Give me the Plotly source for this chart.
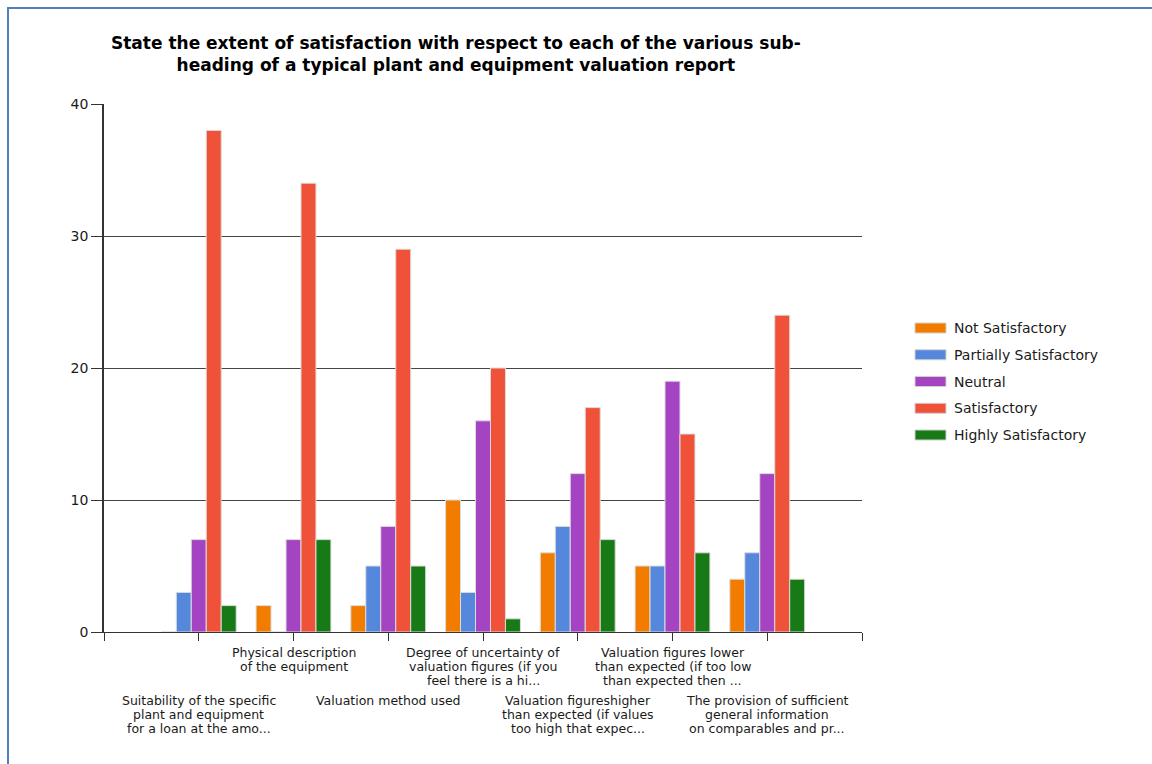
import plotly.graph_objects as go

# Sub-headings of the valuation report (category axis)
categories = [
    "Suitability of the specific<br>plant and equipment<br>for a loan at the amo...",
    "Physical description<br>of the equipment",
    "Valuation method used",
    "Degree of uncertainty of<br>valuation figures (if you<br>feel there is a hi...",
    "Valuation figureshigher<br>than expected (if values<br>too high that expec...",
    "Valuation figures lower<br>than expected (if too low<br>than expected then ...",
    "The provision of sufficient<br>general information<br>on comparables and pr...",
]

series_names = [
    "Not Satisfactory",
    "Partially Satisfactory",
    "Neutral",
    "Satisfactory",
    "Highly Satisfactory",
]

not_satisfactory = [0, 2, 2, 10, 6, 5, 4]
partially_satisfactory = [3, 0, 5, 3, 8, 5, 6]
neutral = [7, 7, 8, 16, 12, 19, 12]
satisfactory = [38, 34, 29, 20, 17, 15, 24]
highly_satisfactory = [2, 7, 5, 1, 7, 6, 4]

series_values = [
    not_satisfactory,
    partially_satisfactory,
    neutral,
    satisfactory,
    highly_satisfactory,
]

y_ticks = [0, 10, 20, 30, 40]

colors = ["#F27C00", "#5587DD", "#A544C2", "#EF5238", "#177A17"]

W, H = 1152, 764
L, R, T, B = 104, 290, 104, 132
PW, PH = W - L - R, H - T - B


def px_x(px):
    return (px - L) / PW


def px_y(py):
    return (H - B - py) / PH


positions = list(range(len(categories)))

fig = go.Figure()
for name, vals, col in zip(series_names, series_values, colors):
    fig.add_trace(
        go.Bar(
            name=name,
            x=positions,
            y=vals,
            marker=dict(color=col, line=dict(color="#dcdcdc", width=1)),
            showlegend=False,
        )
    )

# Staggered category labels under the axis, one line at a time for tight leading
annotations = []
line_step = 14
for i, label in enumerate(categories):
    first_line_y = 700 if i % 2 == 0 else 652
    for j, line in enumerate(label.split("<br>")):
        annotations.append(
            dict(
                x=i,
                xref="x",
                y=px_y(first_line_y + j * line_step),
                yref="paper",
                text=line,
                showarrow=False,
                xanchor="center",
                yanchor="middle",
                align="center",
                font=dict(family="DejaVu Sans", size=12.5, color="#1a1a1a"),
            )
        )

# Title
annotations.append(
    dict(
        x=px_x(456),
        xref="paper",
        y=px_y(54),
        yref="paper",
        text="<b>State the extent of satisfaction with respect to each of the various sub-"
        "<br>heading of a typical plant and equipment valuation report</b>",
        showarrow=False,
        xanchor="center",
        yanchor="middle",
        align="center",
        font=dict(family="DejaVu Sans", size=17, color="#000000"),
    )
)

# Legend: wide swatches with labels
shapes = []
legend_top = 328
legend_step = 26.75
for k, (name, col) in enumerate(zip(series_names, colors)):
    cy = legend_top + k * legend_step
    shapes.append(
        dict(
            type="rect",
            xref="paper",
            yref="paper",
            x0=px_x(915),
            x1=px_x(946),
            y0=px_y(cy - 5),
            y1=px_y(cy + 5),
            fillcolor=col,
            line=dict(color="#d0d0d0", width=1),
        )
    )
    annotations.append(
        dict(
            x=px_x(952),
            xref="paper",
            y=px_y(cy),
            yref="paper",
            text=name,
            showarrow=False,
            xanchor="left",
            yanchor="middle",
            font=dict(family="DejaVu Sans", size=14, color="#1a1a1a"),
        )
    )

# Outer frame (left and top edges)
frame_color = "#4F81BD"
shapes.append(
    dict(type="line", xref="paper", yref="paper",
         x0=px_x(8), x1=px_x(8), y0=px_y(H), y1=px_y(7),
         line=dict(color=frame_color, width=2))
)
shapes.append(
    dict(type="line", xref="paper", yref="paper",
         x0=px_x(7), x1=px_x(W), y0=px_y(8), y1=px_y(8),
         line=dict(color=frame_color, width=2))
)

fig.update_layout(
    width=W,
    height=H,
    margin=dict(l=L, r=R, t=T, b=B, pad=0),
    paper_bgcolor="white",
    plot_bgcolor="white",
    barmode="group",
    bargap=0.21,
    bargroupgap=0,
    showlegend=False,
    annotations=annotations,
    shapes=shapes,
    xaxis=dict(
        range=[-1, len(categories)],
        tickmode="array",
        tickvals=list(range(-1, len(categories) + 1)),
        ticktext=[""] * (len(categories) + 2),
        ticks="outside",
        ticklen=8,
        tickcolor="#333333",
        showline=True,
        linecolor="#333333",
        linewidth=1,
        showgrid=False,
        zeroline=False,
        fixedrange=True,
    ),
    yaxis=dict(
        range=[0, 40],
        tickmode="array",
        tickvals=y_ticks,
        ticktext=[str(v) for v in y_ticks],
        ticks="outside",
        ticklen=11,
        tickcolor="#333333",
        showline=True,
        linecolor="#333333",
        linewidth=1.5,
        showgrid=True,
        gridcolor="#444444",
        gridwidth=1,
        zeroline=False,
        tickfont=dict(family="DejaVu Sans", size=14, color="#1a1a1a"),
        fixedrange=True,
    ),
)

fig.write_html("out.html")
